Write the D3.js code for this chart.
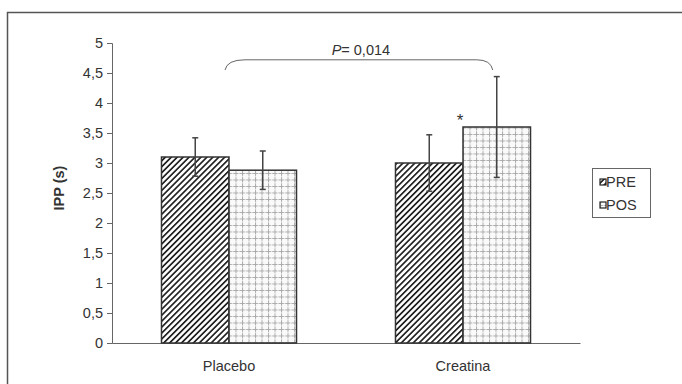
<!DOCTYPE html>
<html>
<head>
<meta charset="utf-8">
<script src="https://cdn.jsdelivr.net/npm/d3@7"></script>
<style>
  body { margin: 0; background: #fff; }
  text { font-family: "Liberation Sans", Arial, sans-serif; fill: #333; }
</style>
</head>
<body>
<div id="chart-area"></div>
<script>
var groups = ["Placebo", "Creatina"];
var seriesNames = ["PRE", "POS"];
var preValues = [3.1, 3.0];
var posValues = [2.88, 3.6];
var preErrors = [0.32, 0.47];
var posErrors = [0.32, 0.84];
var yTicks = [0, 0.5, 1, 1.5, 2, 2.5, 3, 3.5, 4, 4.5, 5];

var margin = { left: 112, right: 102, top: 43, bottom: 41 };
var width = 682 - margin.left - margin.right;
var height = 384 - margin.top - margin.bottom;

var svg = d3.select("#chart-area")
        .append("svg")
                .attr("width", 682)
                .attr("height", 384);

// hatch and grid patterns
var defs = svg.append("defs");
var hatch = defs.append("pattern")
        .attr("id", "hatch")
        .attr("patternUnits", "userSpaceOnUse")
        .attr("width", 4.2).attr("height", 4.2)
        .attr("patternTransform", "rotate(45)");
hatch.append("rect").attr("width", 4.2).attr("height", 4.2).attr("fill", "#fff");
hatch.append("rect").attr("width", 1.7).attr("height", 4.2).attr("fill", "#222");

var grid = defs.append("pattern")
        .attr("id", "grid")
        .attr("patternUnits", "userSpaceOnUse")
        .attr("width", 6.5).attr("height", 6.5);
grid.append("rect").attr("width", 6.5).attr("height", 6.5).attr("fill", "#fafafa");
grid.append("path")
        .attr("d", "M0,0.5H6.5M0.5,0V6.5")
        .attr("stroke", "#aaa")
        .attr("stroke-width", 1)
        .attr("stroke-dasharray", "3,1");

// outer frame
svg.append("rect")
        .attr("x", 7.5).attr("y", 12.5)
        .attr("width", 700).attr("height", 400)
        .attr("fill", "none")
        .attr("stroke", "#555")
        .attr("stroke-width", 1.5);

var g = svg.append("g")
        .attr("transform", "translate(" + margin.left + "," + margin.top + ")");

var x0 = d3.scaleBand()
        .domain(groups)
        .range([0, width])
        .paddingInner(0.423)
        .paddingOuter(0.2115);

var x1 = d3.scaleBand()
        .domain(seriesNames)
        .range([0, x0.bandwidth()]);

var y = d3.scaleLinear()
        .domain([0, 5])
        .range([height, 0]);

var yAxisCall = d3.axisLeft(y)
        .tickValues(yTicks)
        .tickSize(5)
        .tickFormat(d => String(d).replace(".", ","));
var yAxis = g.append("g")
        .attr("class", "y-axis")
        .call(yAxisCall);
yAxis.select(".domain").attr("stroke", "#666");
yAxis.selectAll(".tick line").attr("stroke", "#666");
yAxis.selectAll("text")
        .attr("font-size", "14.5px")
        .attr("x", -9)
        .style("font-family", "Liberation Sans, Arial, sans-serif")
        .attr("fill", "#333");

var xAxisCall = d3.axisBottom(x0).tickSize(0).tickPadding(18);
var xAxis = g.append("g")
        .attr("class", "x-axis")
        .attr("transform", "translate(0," + height + ")")
        .call(xAxisCall);
xAxis.select(".domain").attr("stroke", "#666");
xAxis.selectAll("text")
        .attr("font-size", "14.5px")
        .style("font-family", "Liberation Sans, Arial, sans-serif")
        .attr("fill", "#333");

g.append("text")
        .attr("transform", "rotate(-90)")
        .attr("x", -(height / 2) + 5)
        .attr("y", -48)
        .attr("text-anchor", "middle")
        .attr("font-size", "14.5px")
        .attr("font-weight", "bold")
        .text("IPP (s)");

var data = [];
groups.forEach((grp, i) => {
        data.push({ group: grp, series: "PRE", value: preValues[i], err: preErrors[i] });
        data.push({ group: grp, series: "POS", value: posValues[i], err: posErrors[i] });
});

g.selectAll("rect.bar")
        .data(data)
        .enter()
        .append("rect")
        .attr("class", "bar")
        .attr("x", d => x0(d.group) + x1(d.series))
        .attr("y", d => y(d.value))
        .attr("width", x1.bandwidth())
        .attr("height", d => height - y(d.value))
        .attr("fill", d => d.series === "PRE" ? "url(#hatch)" : "url(#grid)")
        .attr("stroke", "#333")
        .attr("stroke-width", 1.5);

var errG = g.selectAll("g.err")
        .data(data)
        .enter()
        .append("g")
        .attr("class", "err")
        .attr("transform", d => "translate(" + (x0(d.group) + x1(d.series) + x1.bandwidth() / 2) + ",0)");
errG.append("line")
        .attr("y1", d => y(d.value + d.err))
        .attr("y2", d => y(d.value - d.err))
        .attr("stroke", "#444").attr("stroke-width", 1.5);
errG.append("line")
        .attr("x1", -3).attr("x2", 3)
        .attr("y1", d => y(d.value + d.err))
        .attr("y2", d => y(d.value + d.err))
        .attr("stroke", "#444").attr("stroke-width", 1.5);
errG.append("line")
        .attr("x1", -3).attr("x2", 3)
        .attr("y1", d => y(d.value - d.err))
        .attr("y2", d => y(d.value - d.err))
        .attr("stroke", "#444").attr("stroke-width", 1.5);

// significance asterisk
g.append("text")
        .attr("x", x0("Creatina") + x1("POS") - 3)
        .attr("y", y(posValues[1]) - 1)
        .attr("text-anchor", "middle")
        .attr("font-size", "17px")
        .attr("fill", "#444")
        .text("*");

// bracket between Placebo PRE and Creatina POS
var bx1 = x0("Placebo") + x1("PRE") + x1.bandwidth();
var bx2 = x0("Creatina") + x1("POS") + x1.bandwidth() / 2 - 4;
var by = y(4.72);
var byEnd = y(4.55);
g.append("path")
        .attr("d", "M" + (bx1 - 4) + "," + byEnd +
                " Q" + (bx1 - 2) + "," + by + " " + (bx1 + 16) + "," + by +
                " L" + (bx2 - 16) + "," + by +
                " Q" + (bx2 - 2) + "," + by + " " + bx2 + "," + byEnd)
        .attr("fill", "none")
        .attr("stroke", "#666")
        .attr("stroke-width", 1);

var ptext = g.append("text")
        .attr("x", (bx1 + bx2) / 2)
        .attr("y", y(4.8))
        .attr("text-anchor", "middle")
        .attr("font-size", "14.5px");
ptext.append("tspan").attr("font-style", "italic").text("P");
ptext.append("tspan").text("= 0,014");

// legend
var legend = svg.append("g").attr("transform", "translate(592,168)");
legend.append("rect")
        .attr("x", 0.5).attr("y", 0.5)
        .attr("width", 58).attr("height", 49)
        .attr("fill", "#fff")
        .attr("stroke", "#666");
seriesNames.forEach((s, i) => {
        var row = legend.append("g").attr("transform", "translate(8," + (14 + i * 23) + ")");
        row.append("rect")
                .attr("x", 0).attr("y", -3)
                .attr("width", 6).attr("height", 6)
                .attr("fill", s === "PRE" ? "url(#hatch)" : "url(#grid)")
                .attr("stroke", "#222")
                .attr("stroke-width", 1.2);
        row.append("text")
                .attr("x", 6)
                .attr("y", 5)
                .attr("font-size", "14.5px")
                .text(s);
});
</script>
</body>
</html>
